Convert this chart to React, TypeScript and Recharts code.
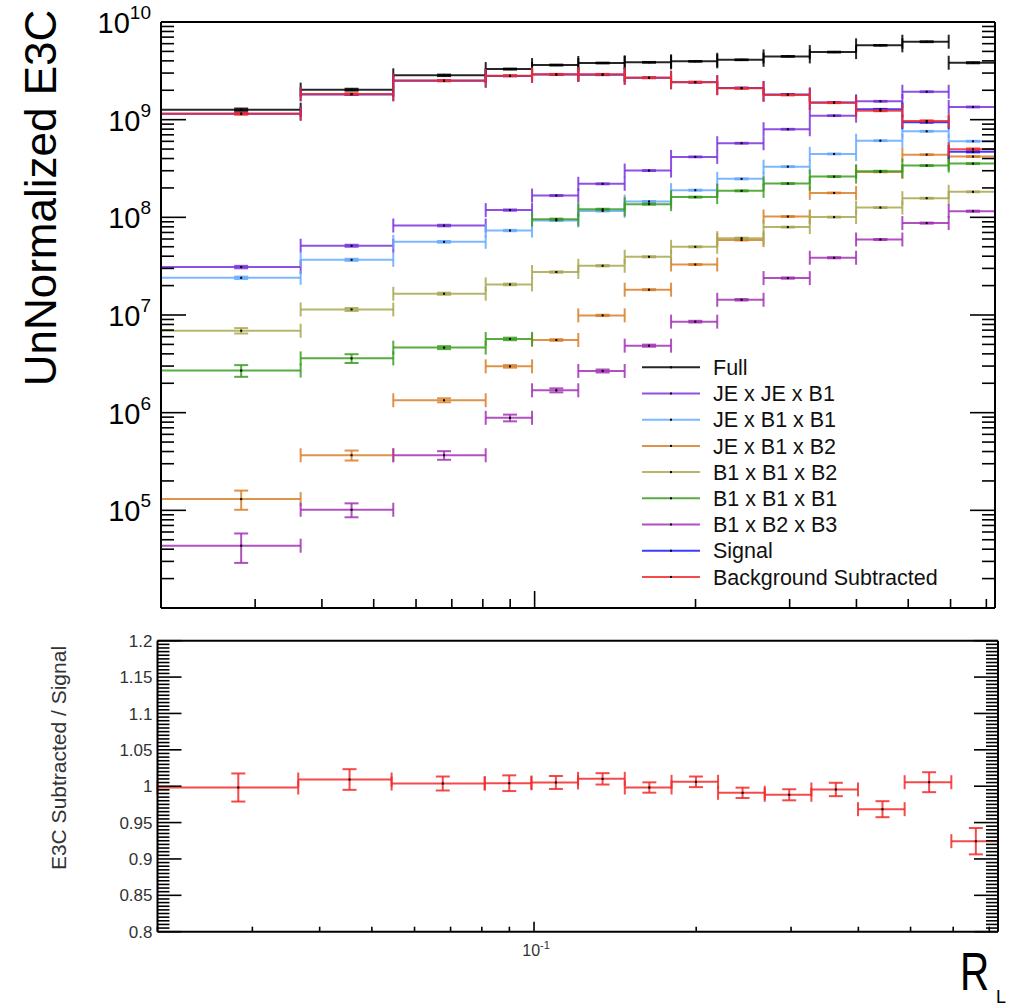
import React from 'react';
import { ComposedChart, Scatter, XAxis, YAxis, ErrorBar } from 'recharts';

// bin edges of R_L (log-spaced, first bins merged)
const binEdges = [0.02, 0.0365, 0.0544, 0.081, 0.0989, 0.1207, 0.1474, 0.18, 0.2196, 0.2681, 0.3272, 0.3994, 0.4875, 0.5952, 0.7266];

const seriesNames = [
  'Full',
  'JE x JE x B1',
  'JE x B1 x B1',
  'JE x B1 x B2',
  'B1 x B1 x B2',
  'B1 x B1 x B1',
  'B1 x B2 x B3',
  'Signal',
  'Background Subtracted',
];
const seriesColors = ['#000000', '#7a33dc', '#66aaff', '#d8802c', '#a9a852', '#3c9c22', '#a233b4', '#1a1aff', '#f22a2a'];

const fullVals = [1.265e9, 2.028e9, 2.844e9, 3.296e9, 3.622e9, 3.802e9, 3.864e9, 3.954e9, 4.102e9, 4.446e9, 4.92e9, 5.768e9, 6.281e9, 3.828e9];
const fullErrs = [3.5e7, 4.5e7, 5.0e7, 4.0e7, 4.0e7, 3.5e7, 3.5e7, 3.5e7, 3.5e7, 4.0e7, 4.5e7, 5.0e7, 6.0e7, 5.0e7];

const jeJeB1Vals = [3.097e7, 5.117e7, 8.241e7, 1.186e8, 1.671e8, 2.203e8, 3.013e8, 4.159e8, 5.741e8, 7.98e8, 1.099e9, 1.542e9, 1.932e9, 1.349e9];
const jeJeB1Errs = [9.0e5, 1.2e6, 1.5e6, 1.8e6, 2.0e6, 2.4e6, 3.0e6, 4.0e6, 5.5e6, 7.5e6, 1.0e7, 1.4e7, 1.8e7, 1.4e7];

const jeB1B1Vals = [2.404e7, 3.673e7, 5.61e7, 7.328e7, 9.3e7, 1.164e8, 1.452e8, 1.897e8, 2.477e8, 3.304e8, 4.457e8, 6.095e8, 7.603e8, 6.012e8];
const jeB1B1Errs = [7.0e5, 9.0e5, 1.1e6, 1.2e6, 1.4e6, 1.6e6, 1.8e6, 2.2e6, 2.8e6, 3.5e6, 4.5e6, 6.0e6, 7.5e6, 6.5e6];

const jeB1B2Vals = [1.303e5, 3.664e5, 1.34e6, 2.979e6, 5.546e6, 9.908e6, 1.816e7, 3.289e7, 5.848e7, 1.019e8, 1.778e8, 2.917e8, 4.385e8, 4.188e8];
const jeB1B2Errs = [2.9e4, 4.3e4, 6.3e4, 9.0e4, 1.1e5, 1.5e5, 2.2e5, 3.5e5, 5.5e5, 9.0e5, 1.5e6, 2.4e6, 3.6e6, 4.0e6];

const b1B1B2Vals = [6.902e6, 1.14e7, 1.652e7, 2.056e7, 2.754e7, 3.192e7, 3.945e7, 4.989e7, 6.124e7, 7.943e7, 1.005e8, 1.259e8, 1.57e8, 1.824e8];
const b1B1B2Errs = [4.4e5, 4.0e5, 4.0e5, 4.0e5, 4.5e5, 4.5e5, 5.0e5, 5.5e5, 6.5e5, 8.0e5, 1.0e6, 1.2e6, 1.5e6, 1.8e6];

const b1B1B1Vals = [2.698e6, 3.597e6, 4.634e6, 5.689e6, 9.55e7, 1.208e8, 1.365e8, 1.611e8, 1.866e8, 2.218e8, 2.612e8, 2.965e8, 3.388e8, 3.548e8];
const b1B1B1Errs = [3.7e5, 3.7e5, 1.6e5, 1.7e5, 1.5e6, 1.6e6, 1.6e6, 1.8e6, 2.0e6, 2.3e6, 2.6e6, 3.0e6, 3.4e6, 3.6e6];

const b1B2B3Vals = [4.345e4, 1.014e5, 3.664e5, 8.851e5, 1.694e6, 2.673e6, 4.853e6, 8.551e6, 1.432e7, 2.388e7, 3.855e7, 5.929e7, 8.73e7, 1.156e8];
const b1B2B3Errs = [1.45e4, 1.65e4, 3.7e4, 7.0e4, 8.0e4, 9.4e4, 1.2e5, 1.7e5, 2.5e5, 3.5e5, 5.0e5, 7.5e5, 1.1e6, 1.5e6];

const signalVals = [1.153e9, 1.815e9, 2.503e9, 2.806e9, 2.896e9, 2.882e9, 2.69e9, 2.413e9, 2.113e9, 1.812e9, 1.5e9, 1.276e9, 9.4e8, 4.68e8];
const signalErrs = [1.5e7, 2.0e7, 2.5e7, 2.5e7, 2.5e7, 2.5e7, 2.3e7, 2.1e7, 1.9e7, 1.6e7, 1.4e7, 1.3e7, 1.0e7, 6.0e6];

const bkgSubVals = [1.151e9, 1.832e9, 2.512e9, 2.818e9, 2.911e9, 2.911e9, 2.685e9, 2.427e9, 2.094e9, 1.791e9, 1.493e9, 1.236e9, 9.705e8, 4.98e8];
const bkgSubErrs = [2.5e7, 3.0e7, 3.0e7, 3.0e7, 3.0e7, 3.0e7, 2.8e7, 2.5e7, 2.2e7, 1.9e7, 1.7e7, 1.5e7, 1.3e7, 9.0e6];

// E3C subtracted / signal
const ratioVals = [0.9982, 1.0092, 1.0037, 1.0041, 1.0051, 1.0101, 0.9982, 1.006, 0.9909, 0.9882, 0.9955, 0.9684, 1.0055, 0.9244];
const ratioErrs = [0.0193, 0.0142, 0.0096, 0.0108, 0.0089, 0.0078, 0.0071, 0.0073, 0.0071, 0.0076, 0.0092, 0.011, 0.0137, 0.0181];

const seriesVals = [fullVals, jeJeB1Vals, jeB1B1Vals, jeB1B2Vals, b1B1B2Vals, b1B1B1Vals, b1B2B3Vals, signalVals, bkgSubVals];
const seriesErrs = [fullErrs, jeJeB1Errs, jeB1B1Errs, jeB1B2Errs, b1B1B2Errs, b1B1B1Errs, b1B2B3Errs, signalErrs, bkgSubErrs];

const xMajorTicks = [0.1];
const yMajorExps = [5, 6, 7, 8, 9, 10];
const ratioLabels = ['0.8', '0.85', '0.9', '0.95', '1', '1.05', '1.1', '1.15', '1.2'];

const xTicks: number[] = [];
for (let m = 2; m <= 9; m++) xTicks.push(m / 100);
for (let m = 1; m <= 7; m++) xTicks.push(m / 10);
const yTicks: number[] = [];
for (let e = 4; e <= 9; e++) for (let m = 1; m <= 9; m++) yTicks.push(m * Math.pow(10, e));
yTicks.push(1e10);
const ratioTicks: number[] = [];
for (let i = 0; i <= 80; i++) ratioTicks.push(Math.round((0.8 + i * 0.005) * 1000) / 1000);

const FONT = '"Liberation Sans", Arial, Helvetica, sans-serif';

function toPoints(vals: number[], errs: number[]) {
  return vals.map((v, i) => {
    const lo = binEdges[i];
    const hi = binEdges[i + 1];
    const x = (lo + hi) / 2;
    return { x, y: v, xErr: [x - lo, hi - x], yErr: errs[i] };
  });
}

const isLogMajor = (v: number) => Math.abs(Math.log10(v) - Math.round(Math.log10(v))) < 1e-6;
const isRatioMajor = (v: number) => Math.abs(v * 20 - Math.round(v * 20)) < 1e-6;
const isXMajor = (v: number) => xMajorTicks.some((t) => Math.abs(t - v) < 1e-9);

type Side = 'left' | 'right' | 'top' | 'bottom';

function makeTick(
  side: Side,
  majorLen: number,
  minorLen: number,
  isMajor: (v: number) => boolean,
  label?: (v: number, x: number, y: number) => React.ReactNode,
) {
  return (props: any) => {
    const { x, y, payload } = props;
    const v = payload.value as number;
    const major = isMajor(v);
    const len = major ? majorLen : minorLen;
    let x2 = x;
    let y2 = y;
    if (side === 'left') x2 = x + len;
    else if (side === 'right') x2 = x - len;
    else if (side === 'top') y2 = y + len;
    else y2 = y - len;
    return (
      <g>
        <line x1={x} y1={y} x2={x2} y2={y2} stroke="#000" strokeWidth={1.6} />
        {major && label ? label(v, x, y) : null}
      </g>
    );
  };
}

const logYLabel = (v: number, x: number, y: number) => {
  const e = Math.round(Math.log10(v));
  if (!yMajorExps.includes(e)) return null;
  return (
    <text x={x - 10} y={y + 11} textAnchor="end" fontSize={29} fontFamily={FONT} fill="#000">
      10<tspan dy={-14} fontSize={19}>{e}</tspan>
    </text>
  );
};

const ratioYLabel = (v: number, x: number, y: number) => {
  const idx = Math.round((v - 0.8) * 20);
  return (
    <text x={x - 5} y={y} dy="0.36em" textAnchor="end" fontSize={17} fontFamily={FONT} fill="#333">
      {ratioLabels[idx]}
    </text>
  );
};

const xLabel = (v: number, x: number, y: number) => (
  <text x={x + 2} y={y + 24} textAnchor="middle" fontSize={16} fontFamily={FONT} fill="#333">
    10<tspan dy={-7} fontSize={11}>-1</tspan>
  </text>
);

const Dot = (props: any) => {
  const { cx, cy } = props;
  if (cx == null || cy == null) return <g />;
  return <rect x={cx - 1} y={cy - 1} width={2} height={2} fill="#000" />;
};

export default function App() {
  const tops = seriesVals.map((v, i) => toPoints(v, seriesErrs[i]));
  const ratio = toPoints(ratioVals, ratioErrs);

  return (
    <div style={{ position: 'absolute', left: 0, top: 0, width: 1011, height: 1007, background: '#fff', fontFamily: FONT }}>
      <div style={{ position: 'absolute', left: 0, top: 0 }}>
        <ComposedChart width={1011} height={620} margin={{ top: 12, right: 6, bottom: 2, left: 101 }}>
          <XAxis
            xAxisId="b"
            dataKey="x"
            type="number"
            scale="log"
            domain={[binEdges[0], binEdges[binEdges.length - 1]]}
            allowDataOverflow
            ticks={xTicks}
            interval={0}
            height={10}
            tickSize={0}
            tickMargin={0}
            tickLine={false}
            axisLine={{ stroke: '#000', strokeWidth: 2 }}
            tick={makeTick('bottom', 17, 9, isXMajor)}
          />
          <XAxis
            xAxisId="t"
            orientation="top"
            type="number"
            scale="log"
            domain={[binEdges[0], binEdges[binEdges.length - 1]]}
            allowDataOverflow
            ticks={xTicks}
            interval={0}
            height={10}
            tickSize={0}
            tickMargin={0}
            tickLine={false}
            axisLine={{ stroke: '#000', strokeWidth: 2 }}
            tick={makeTick('top', 17, 9, isXMajor)}
          />
          <YAxis
            yAxisId="l"
            dataKey="y"
            type="number"
            scale="log"
            domain={[1e4, 1e10]}
            allowDataOverflow
            ticks={yTicks}
            interval={0}
            width={60}
            tickSize={0}
            tickMargin={0}
            tickLine={false}
            axisLine={{ stroke: '#000', strokeWidth: 2 }}
            tick={makeTick('left', 25, 13, isLogMajor, logYLabel)}
          />
          <YAxis
            yAxisId="r"
            orientation="right"
            type="number"
            scale="log"
            domain={[1e4, 1e10]}
            allowDataOverflow
            ticks={yTicks}
            interval={0}
            width={10}
            tickSize={0}
            tickMargin={0}
            tickLine={false}
            axisLine={{ stroke: '#000', strokeWidth: 2 }}
            tick={makeTick('right', 25, 13, isLogMajor)}
          />
          {tops.map((pts, i) => (
            <Scatter
              key={seriesNames[i]}
              name={seriesNames[i]}
              data={pts}
              xAxisId="b"
              yAxisId="l"
              fill="#000"
              shape={Dot}
              isAnimationActive={false}
            >
              <ErrorBar dataKey="xErr" direction="x" width={7} stroke={seriesColors[i]} strokeWidth={2} strokeOpacity={0.85} isAnimationActive={false} />
              <ErrorBar dataKey="yErr" direction="y" width={7} stroke={seriesColors[i]} strokeWidth={2} strokeOpacity={0.85} isAnimationActive={false} />
            </Scatter>
          ))}
        </ComposedChart>
      </div>

      <div style={{ position: 'absolute', left: 0, top: 620 }}>
        <ComposedChart width={1011} height={387} margin={{ top: 10.7, right: 3, bottom: 25.3, left: 97.5 }}>
          <XAxis
            xAxisId="b"
            dataKey="x"
            type="number"
            scale="log"
            domain={[binEdges[0], binEdges[binEdges.length - 1]]}
            allowDataOverflow
            ticks={xTicks}
            interval={0}
            height={50}
            tickSize={0}
            tickMargin={0}
            tickLine={false}
            axisLine={{ stroke: '#000', strokeWidth: 2 }}
            tick={makeTick('bottom', 10, 5, isXMajor, xLabel)}
          />
          <XAxis
            xAxisId="t"
            orientation="top"
            type="number"
            scale="log"
            domain={[binEdges[0], binEdges[binEdges.length - 1]]}
            allowDataOverflow
            ticks={xTicks}
            interval={0}
            height={10}
            tickSize={0}
            tickMargin={0}
            tickLine={false}
            axisLine={{ stroke: '#000', strokeWidth: 2 }}
            tick={makeTick('top', 10, 5, isXMajor)}
          />
          <YAxis
            yAxisId="l"
            dataKey="y"
            type="number"
            domain={[0.8, 1.2]}
            allowDataOverflow
            ticks={ratioTicks}
            interval={0}
            width={60}
            tickSize={0}
            tickMargin={0}
            tickLine={false}
            axisLine={{ stroke: '#000', strokeWidth: 2 }}
            tick={makeTick('left', 24, 12, isRatioMajor, ratioYLabel)}
          />
          <YAxis
            yAxisId="r"
            orientation="right"
            type="number"
            domain={[0.8, 1.2]}
            allowDataOverflow
            ticks={ratioTicks}
            interval={0}
            width={10}
            tickSize={0}
            tickMargin={0}
            tickLine={false}
            axisLine={{ stroke: '#000', strokeWidth: 2 }}
            tick={makeTick('right', 24, 12, isRatioMajor)}
          />
          <Scatter name="ratio" data={ratio} xAxisId="b" yAxisId="l" fill="#000" shape={Dot} isAnimationActive={false}>
            <ErrorBar dataKey="xErr" direction="x" width={7} stroke="#f22a2a" strokeWidth={2} strokeOpacity={0.85} isAnimationActive={false} />
            <ErrorBar dataKey="yErr" direction="y" width={7} stroke="#f22a2a" strokeWidth={2} strokeOpacity={0.85} isAnimationActive={false} />
          </Scatter>
        </ComposedChart>
      </div>

      <svg width={1011} height={1007} style={{ position: 'absolute', left: 0, top: 0, pointerEvents: 'none' }}>
        <text
          x={40}
          y={198}
          transform="rotate(-90 40 198)"
          textAnchor="middle"
          dominantBaseline="central"
          fontSize={44}
          fontFamily={FONT}
          fill="#000"
        >
          UnNormalized E3C
        </text>
        <text
          x={58}
          y={758}
          transform="rotate(-90 58 758)"
          textAnchor="middle"
          dominantBaseline="central"
          fontSize={21}
          fontFamily={FONT}
          fill="#333"
        >
          E3C Subtracted / Signal
        </text>
        <text x={960} y={990} fontSize={54} fontFamily={FONT} fill="#000" transform="translate(960 0) scale(0.75 1) translate(-960 0)">
          R
        </text>
        <text x={996} y={1003} fontSize={18} fontFamily={FONT} fill="#000">
          L
        </text>
        {seriesNames.map((n, i) => {
          const cy = 367.3 + i * 26.2;
          return (
            <g key={n}>
              <line x1={642} x2={700} y1={cy} y2={cy} stroke={seriesColors[i]} strokeWidth={2} strokeOpacity={0.85} />
              <rect x={670} y={cy - 1} width={2} height={2} fill="#000" />
              <text x={713} y={cy} dy="0.36em" fontSize={21.5} fontFamily={FONT} fill="#111">
                {n}
              </text>
            </g>
          );
        })}
      </svg>
    </div>
  );
}
